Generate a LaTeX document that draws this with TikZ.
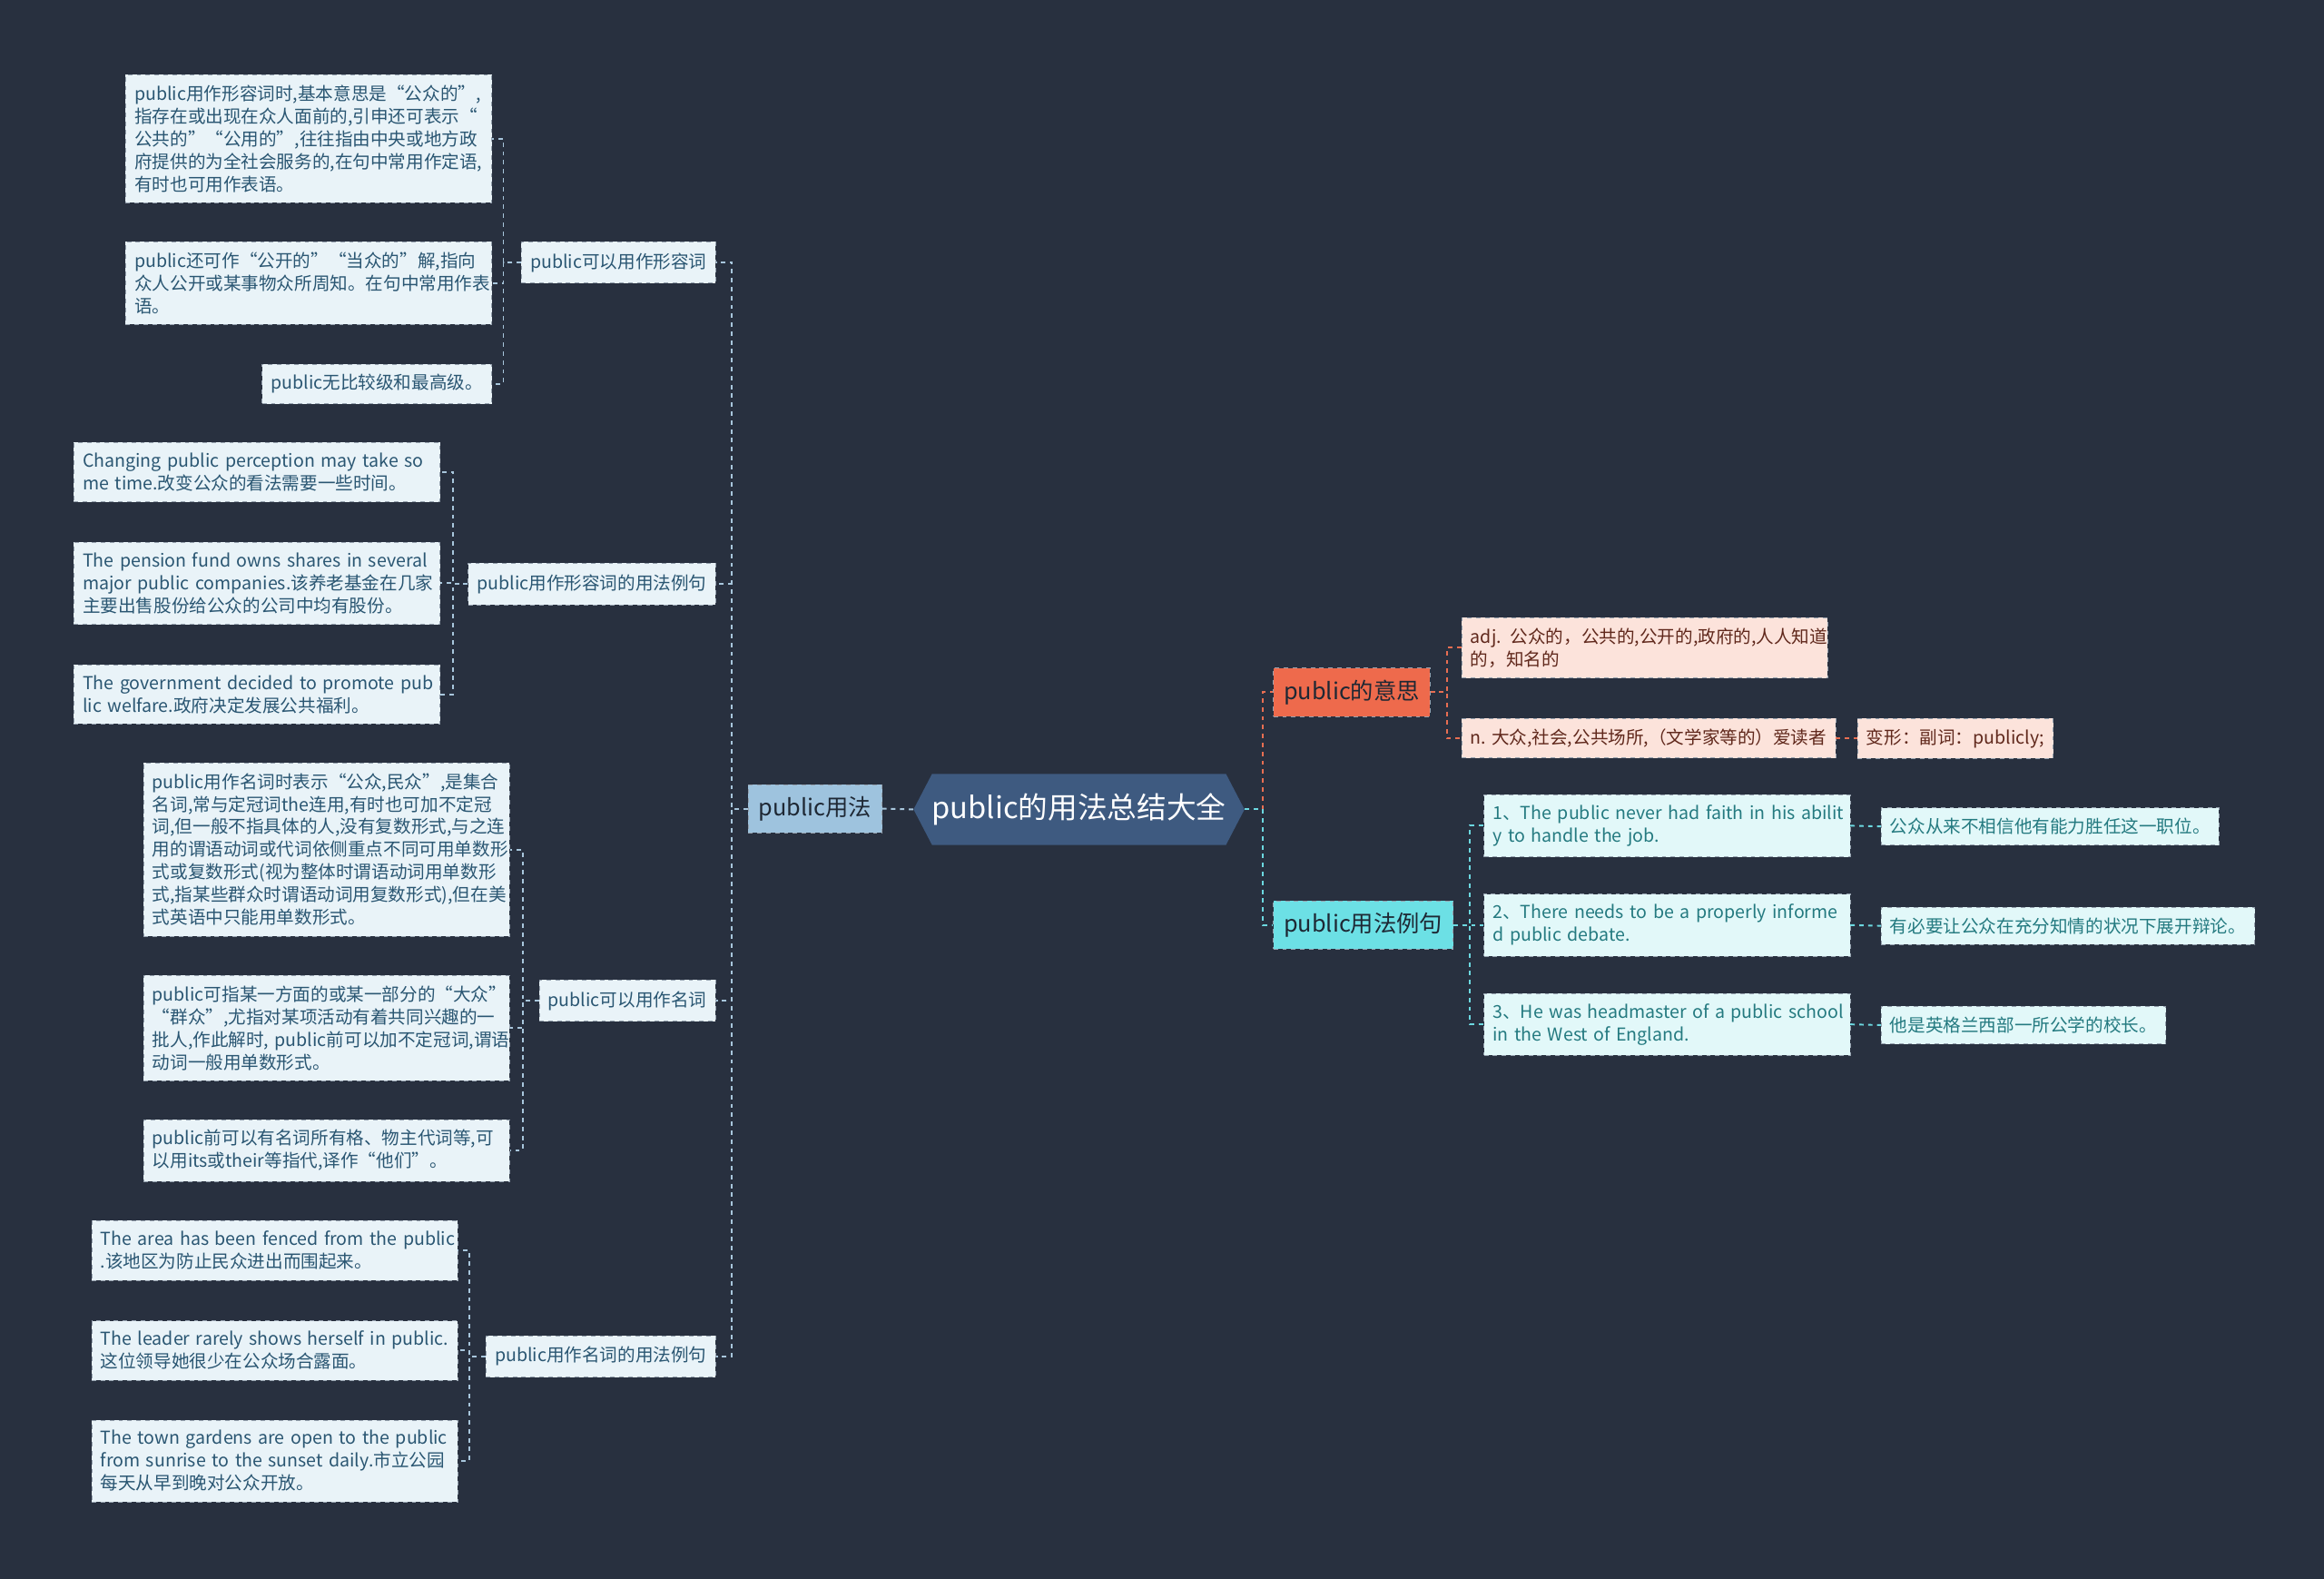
\documentclass[tikz,border=0pt]{standalone}
\usepackage{fontspec}
\setmainfont{Noto Sans CJK SC}
\usetikzlibrary{shapes.symbols}

\definecolor{bgcol}{RGB}{40,48,63}
\definecolor{rootfill}{RGB}{62,90,128}
\definecolor{mainfill}{RGB}{158,195,222}
\definecolor{leaffill}{RGB}{233,243,248}
\definecolor{leaftext}{RGB}{42,86,114}
\definecolor{leafline}{RGB}{150,162,175}
\definecolor{linkblue}{RGB}{168,198,220}
\definecolor{redfill}{RGB}{238,106,76}
\definecolor{redleaf}{RGB}{252,227,219}
\definecolor{redtext}{RGB}{96,40,28}
\definecolor{redlink}{RGB}{232,110,82}
\definecolor{cyanfill}{RGB}{108,224,229}
\definecolor{cyanleaf}{RGB}{226,248,249}
\definecolor{cyantext}{RGB}{36,122,128}
\definecolor{cyanlink}{RGB}{108,216,224}
\definecolor{darktext}{RGB}{30,40,52}

\begin{document}
\begin{tikzpicture}[x=1pt, y=-1pt,
    leaf/.style={draw=leafline, dashed, fill=leaffill, text=leaftext, align=left,
      font=\fontsize{12}{15.3}\selectfont, inner xsep=6pt, inner ysep=7pt,
      execute at begin node={\hyphenpenalty=10000\rightskip=0pt plus 2em minus 16pt}},
    wide/.style={text width=235pt},
    topic/.style={draw=leafline, dashed, fill=leaffill, text=leaftext,
      font=\fontsize{12}{15}\selectfont, inner xsep=6pt, inner ysep=7.5pt},
    big/.style={draw=leafline, dashed, text=darktext,
      font=\fontsize{15.5}{19}\selectfont, inner xsep=7pt, inner ysep=8pt},
    link/.style={dashed, line width=1.2pt, draw=linkblue}]

    % Background
    \fill[bgcol] (0,0) rectangle (1568,1065);

    % Root
    \node[shape=signal, signal to=east and west, signal pointer angle=125,
      fill=rootfill, text=white, font=\fontsize{20}{24}\selectfont,
      minimum width=216pt, minimum height=48pt, inner xsep=0pt, inner ysep=2pt] (root) at (728,546) {public的用法总结大全};

    % Left branch: public用法
    \node[big, fill=mainfill] (usage) at (550,545.5) {public用法};

    \node[topic, anchor=east] (adj) at (483,177) {public可以用作形容词};
    \node[topic, anchor=east] (adjex) at (483,394) {public用作形容词的用法例句};
    \node[topic, anchor=east] (noun) at (483,675) {public可以用作名词};
    \node[topic, anchor=east] (nounex) at (483,915) {public用作名词的用法例句};

    % Leaves of public可以用作形容词
    \node[leaf, wide, anchor=east] (adjA) at (332,93.5) {public用作形容词时,基本意思是“公众的”,\\指存在或出现在众人面前的,引申还可表示“\\公共的”“公用的”,往往指由中央或地方政\\府提供的为全社会服务的,在句中常用作定语,\\有时也可用作表语。};
    \node[leaf, wide, anchor=east] (adjB) at (332,191) {public还可作“公开的”“当众的”解,指向\\众人公开或某事物众所周知。在句中常用作表\\语。};
    \node[leaf, anchor=east] (adjC) at (332,259) {public无比较级和最高级。};

    % Leaves of public用作形容词的用法例句
    \node[leaf, wide, anchor=east] (adjexA) at (297,318.5) {Changing public perception may take so\\me time.改变公众的看法需要一些时间。};
    \node[leaf, wide, anchor=east] (adjexB) at (297,393.5) {The pension fund owns shares in several\\major public companies.该养老基金在几家\\主要出售股份给公众的公司中均有股份。};
    \node[leaf, wide, anchor=east] (adjexC) at (297,468.5) {The government decided to promote pub\\lic welfare.政府决定发展公共福利。};

    % Leaves of public可以用作名词
    \node[leaf, wide, anchor=east] (nounA) at (344,573) {public用作名词时表示“公众,民众”,是集合\\名词,常与定冠词the连用,有时也可加不定冠\\词,但一般不指具体的人,没有复数形式,与之连\\用的谓语动词或代词依侧重点不同可用单数形\\式或复数形式(视为整体时谓语动词用单数形\\式,指某些群众时谓语动词用复数形式),但在美\\式英语中只能用单数形式。};
    \node[leaf, wide, anchor=east] (nounB) at (344,693.5) {public可指某一方面的或某一部分的“大众”\\“群众”,尤指对某项活动有着共同兴趣的一\\批人,作此解时, public前可以加不定冠词,谓语\\动词一般用单数形式。};
    \node[leaf, wide, anchor=east] (nounC) at (344,776) {public前可以有名词所有格、物主代词等,可\\以用its或their等指代,译作“他们”。};

    % Leaves of public用作名词的用法例句
    \node[leaf, wide, anchor=east] (nounexA) at (309,843.5) {The area has been fenced from the public\\.该地区为防止民众进出而围起来。};
    \node[leaf, wide, anchor=east] (nounexB) at (309,911) {The leader rarely shows herself in public.\\这位领导她很少在公众场合露面。};
    \node[leaf, wide, anchor=east] (nounexC) at (309,985.5) {The town gardens are open to the public\\from sunrise to the sunset daily.市立公园\\每天从早到晚对公众开放。};

    % Right branch: public的意思
    \node[big, fill=redfill, anchor=west] (meaning) at (859,467) {public的意思};
    \node[leaf, wide, fill=redleaf, text=redtext, anchor=west] (meanA) at (986,437) {adj. 公众的，公共的,公开的,政府的,人人知道\\的，知名的};
    \node[leaf, fill=redleaf, text=redtext, anchor=west] (meanB) at (986,498) {n. 大众,社会,公共场所,（文学家等的）爱读者};
    \node[leaf, fill=redleaf, text=redtext, anchor=west] (meanC) at (1253,498) {变形：副词：publicly;};

    % Right branch: public用法例句
    \node[big, fill=cyanfill, anchor=west] (example) at (859,624) {public用法例句};
    \node[leaf, wide, fill=cyanleaf, text=cyantext, anchor=west] (exA) at (1001,557) {1、The public never had faith in his abilit\\y to handle the job.};
    \node[leaf, wide, fill=cyanleaf, text=cyantext, anchor=west] (exB) at (1001,624) {2、There needs to be a properly informe\\d public debate.};
    \node[leaf, wide, fill=cyanleaf, text=cyantext, anchor=west] (exC) at (1001,691) {3、He was headmaster of a public school\\ in the West of England.};
    \node[leaf, fill=cyanleaf, text=cyantext, anchor=west] (exAzh) at (1269,557.5) {公众从来不相信他有能力胜任这一职位。};
    \node[leaf, fill=cyanleaf, text=cyantext, anchor=west] (exBzh) at (1269,624.5) {有必要让公众在充分知情的状况下展开辩论。};
    \node[leaf, fill=cyanleaf, text=cyantext, anchor=west] (exCzh) at (1269,691.5) {他是英格兰西部一所公学的校长。};

    % Connectors on the left
    \draw[link] (root.west) -- (usage.east);
    \foreach \n in {adj,adjex,noun,nounex}
        \draw[link] (usage.west) -- ++(-11,0) |- (\n.east);
    \foreach \n in {adjA,adjB,adjC}
        \draw[link] (adj.west) -- ++(-12,0) |- (\n.east);
    \foreach \n in {adjexA,adjexB,adjexC}
        \draw[link] (adjex.west) -- ++(-10,0) |- (\n.east);
    \foreach \n in {nounA,nounB,nounC}
        \draw[link] (noun.west) -- ++(-11,0) |- (\n.east);
    \foreach \n in {nounexA,nounexB,nounexC}
        \draw[link] (nounex.west) -- ++(-11,0) |- (\n.east);

    % Connectors on the right
    \draw[link, draw=redlink] (root.east) -- ++(12,0) |- (meaning.west);
    \draw[link, draw=cyanlink] (root.east) -- ++(12,0) |- (example.west);
    \foreach \n in {meanA,meanB}
        \draw[link, draw=redlink] (meaning.east) -- ++(11,0) |- (\n.west);
    \draw[link, draw=redlink] (meanB.east) -- (meanC.west);
    \foreach \n in {exA,exB,exC}
        \draw[link, draw=cyanlink] (example.east) -- ++(11,0) |- (\n.west);
    \draw[link, draw=cyanlink] (exA.east) -- (exAzh.west);
    \draw[link, draw=cyanlink] (exB.east) -- (exBzh.west);
    \draw[link, draw=cyanlink] (exC.east) -- (exCzh.west);
\end{tikzpicture}
\end{document}
